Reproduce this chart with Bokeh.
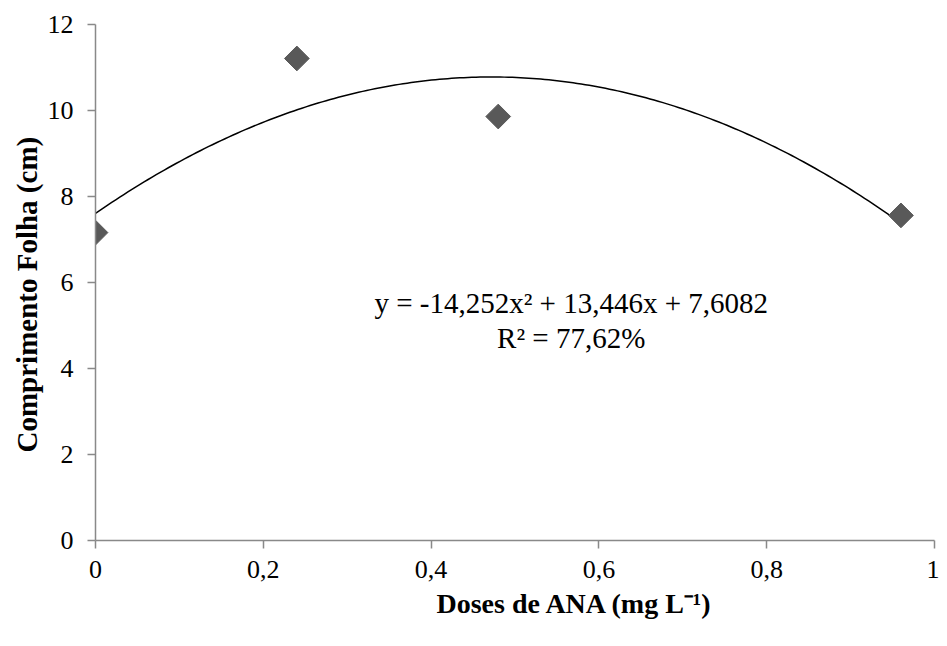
import numpy as np
from bokeh.plotting import figure
from bokeh.models import Label, FixedTicker, Range1d, Title
from bokeh.embed import file_html
from bokeh.resources import INLINE

# Data
doses = [0.0, 0.24, 0.48, 0.96]
comprimento = [7.16, 11.21, 9.86, 7.56]
coef = [-14.252, 13.446, 7.6082]  # a, b, c of the fitted quadratic
x_ticks = [0, 0.2, 0.4, 0.6, 0.8, 1.0]
x_tick_labels = ["0", "0,2", "0,4", "0,6", "0,8", "1"]
y_ticks = [0, 2, 4, 6, 8, 10, 12]

FONT = "Liberation Serif"

p = figure(frame_width=839, frame_height=516,
           min_border_left=95, min_border_right=5, min_border_top=24, min_border_bottom=98,
           x_range=Range1d(0, 1), y_range=Range1d(0, 12),
           output_backend="svg", toolbar_location=None, tools="")
p.outline_line_color = None
p.xgrid.visible = False
p.ygrid.visible = False
p.background_fill_color = "white"
p.border_fill_color = "white"

# trendline from printed coefficients
xs = np.linspace(0, max(doses), 200)
ys = coef[0] * xs**2 + coef[1] * xs + coef[2]
p.line(xs, ys, line_color="black", line_width=1.5)

p.scatter(doses, comprimento, marker="square", size=17.5, angle=np.pi / 4,
          fill_color="#595959", line_color="#595959")

for ax in (p.xaxis[0], p.yaxis[0]):
    ax.axis_line_color = "#898989"
    ax.axis_line_width = 1.5
    ax.major_tick_line_color = "#898989"
    ax.major_tick_line_width = 1.5
    ax.major_tick_out = 8
    ax.major_tick_in = 0
    ax.minor_tick_line_color = None
    ax.major_label_text_font = FONT
    ax.major_label_text_font_size = "26px"
    ax.major_label_text_color = "black"

p.xaxis.ticker = FixedTicker(ticks=x_ticks)
p.xaxis.major_label_overrides = {t: l for t, l in zip(x_ticks, x_tick_labels)}
p.xaxis.major_label_standoff = 12
p.yaxis.ticker = FixedTicker(ticks=y_ticks)
p.yaxis.major_label_standoff = 14

p.add_layout(Title(text="Comprimento Folha (cm)", align="left", offset=88,
                   text_font=FONT, text_font_size="29px", text_font_style="bold",
                   text_color="black", standoff=4), "left")

p.add_layout(Title(text="Doses de ANA (mg L\u207b\u00b9)", align="left", offset=341,
                   text_font=FONT, text_font_size="28px", text_font_style="bold",
                   text_color="black", standoff=10), "below")

# Equation
p.add_layout(Label(x=0.567, y=5.53, text="y = -14,252x\u00b2 + 13,446x + 7,6082",
                   text_font=FONT, text_font_size="29px",
                   text_align="center", text_baseline="middle", text_color="black"))
p.add_layout(Label(x=0.567, y=4.72, text="R\u00b2 = 77,62%",
                   text_font=FONT, text_font_size="29px",
                   text_align="center", text_baseline="middle", text_color="black"))

open("out.html", "w").write(file_html(p, INLINE))
